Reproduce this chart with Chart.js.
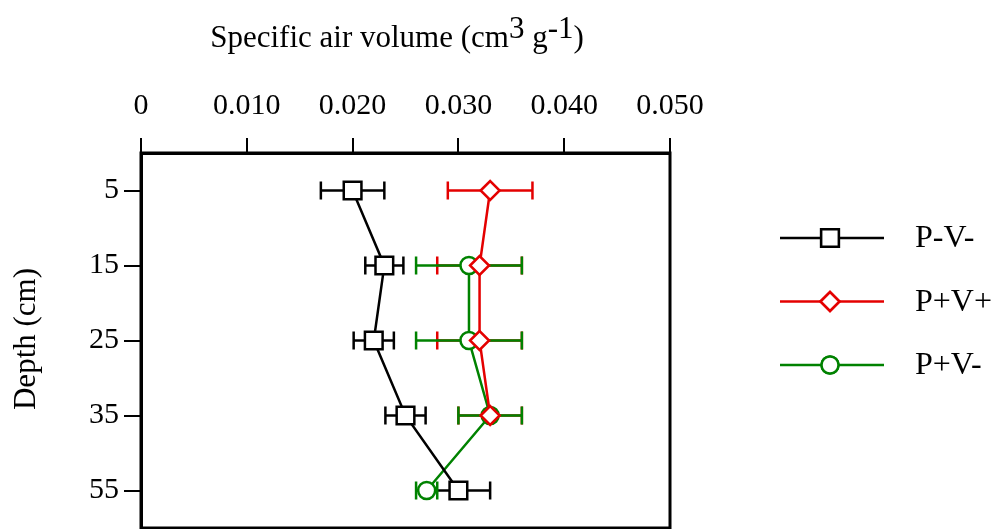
<!DOCTYPE html>
<html>
<head>
<meta charset="utf-8">
<script src="https://cdn.jsdelivr.net/npm/chart.js@4/dist/chart.umd.min.js"></script>
<style>
  html, body { margin: 0; padding: 0; background: #fff; }
  #wrap { width: 993px; height: 529px; }
</style>
</head>
<body>
<div id="wrap"><canvas id="c" width="993" height="529"></canvas></div>
<script>
// depth categories (cm)
var depths = ['5', '15', '25', '35', '55'];
// x axis ticks
var xTicks = [0, 0.010, 0.020, 0.030, 0.040, 0.050];

// specific air volume, cm3 g-1
var pvMinus = [0.020, 0.023, 0.022, 0.025, 0.030];
var pvMinusErr = [0.003, 0.0018, 0.0019, 0.0019, 0.003];
var ppvPlus = [0.033, 0.032, 0.032, 0.033, null];
var ppvPlusErr = [0.004, 0.004, 0.004, 0.003, null];
var ppvMinus = [null, 0.031, 0.031, 0.033, 0.027];
var ppvMinusErr = [null, 0.005, 0.005, 0.003, 0.001];

var FONT = '"Liberation Serif", "Times New Roman", serif';
var RED = 'rgb(228,0,0)';
var GREEN = 'rgb(0,130,0)';
var LW = 2.5;

// horizontal error bars, drawn under the lines
var errorBars = {
  id: 'errorBars',
  beforeDatasetsDraw: function (chart) {
    var ctx = chart.ctx;
    var xs = chart.scales.x, ys = chart.scales.y;
    chart.data.datasets.forEach(function (ds) {
      ctx.save();
      ctx.strokeStyle = ds.borderColor;
      ctx.lineWidth = LW;
      ds.data.forEach(function (v, i) {
        if (v == null) return;
        var e = ds.err[i];
        var y = ys.getPixelForValue(i);
        var x1 = xs.getPixelForValue(v - e), x2 = xs.getPixelForValue(v + e);
        ctx.beginPath();
        ctx.moveTo(x1, y); ctx.lineTo(x2, y);
        ctx.moveTo(x1, y - 9); ctx.lineTo(x1, y + 9);
        ctx.moveTo(x2, y - 9); ctx.lineTo(x2, y + 9);
        ctx.stroke();
      });
      ctx.restore();
    });
  }
};

// frame, titles and legend
var decor = {
  id: 'decor',
  afterDraw: function (chart) {
    var ctx = chart.ctx, a = chart.chartArea;
    ctx.save();
    ctx.strokeStyle = '#000';
    ctx.lineWidth = 3;
    ctx.strokeRect(a.left, a.top, a.right - a.left, a.bottom - a.top);

    // top title with superscripts
    ctx.fillStyle = '#000';
    ctx.textBaseline = 'alphabetic';
    var parts = [['Specific air volume (cm', 0], ['3', 1], [' g', 0], ['-1', 1], [')', 0]];
    ctx.font = '31px ' + FONT;
    var total = 0;
    parts.forEach(function (p) { total += ctx.measureText(p[0]).width; });
    var x = 397 - total / 2;
    parts.forEach(function (p) {
      ctx.fillText(p[0], x, p[1] ? 38 : 47);
      x += ctx.measureText(p[0]).width;
    });

    // y title
    ctx.save();
    ctx.translate(27, 339);
    ctx.rotate(-Math.PI / 2);
    ctx.textAlign = 'center';
    ctx.textBaseline = 'middle';
    ctx.font = '31px ' + FONT;
    ctx.fillText('Depth (cm)', 0, 0);
    ctx.restore();

    // legend
    chart.data.datasets.forEach(function (ds, i) {
      var y = 238 + i * 63.5;
      ctx.strokeStyle = ds.borderColor;
      ctx.lineWidth = LW;
      ctx.beginPath();
      ctx.moveTo(780, y); ctx.lineTo(884, y);
      ctx.stroke();
      Chart.helpers.drawPoint(ctx, {
        pointStyle: ds.pointStyle, radius: ds.pointRadius, borderWidth: LW
      }, 830, y);
      ctx.fillStyle = '#fff';
      ctx.fill();
      ctx.stroke();
      ctx.fillStyle = '#000';
      ctx.font = '32px ' + FONT;
      ctx.textBaseline = 'middle';
      ctx.textAlign = 'left';
      ctx.fillText(ds.label, 915, y + 1);
    });
    ctx.restore();
  }
};

function series(label, data, err, color, style, r) {
  return {
    label: label, data: data, err: err,
    borderColor: color, backgroundColor: '#fff',
    borderWidth: LW, pointStyle: style, pointRadius: r,
    pointBorderWidth: LW, pointBackgroundColor: '#fff', pointBorderColor: color,
    pointHoverRadius: r, tension: 0
  };
}

new Chart(document.getElementById('c'), {
  type: 'line',
  data: {
    labels: depths,
    datasets: [
      series('P-V-', pvMinus, pvMinusErr, '#000', 'rect', 12.5),
      series('P+V+', ppvPlus, ppvPlusErr, RED, 'rectRot', 9.5),
      series('P+V-', ppvMinus, ppvMinusErr, GREEN, 'circle', 8.5)
    ]
  },
  options: {
    indexAxis: 'y',
    responsive: false,
    animation: false,
    events: [],
    layout: { autoPadding: false, padding: { left: 0, top: 0, right: 323, bottom: 1 } },
    plugins: { legend: { display: false }, tooltip: { enabled: false } },
    scales: {
      x: {
        type: 'linear',
        position: 'top',
        min: 0, max: 0.05,
        afterBuildTicks: function (s) { s.ticks = xTicks.map(function (v) { return { value: v }; }); },
        afterFit: function (s) { s.height = 153; s.paddingLeft = 0; s.paddingRight = 0; },
        ticks: {
          color: '#000', padding: 14,
          font: { family: FONT, size: 30 },
          callback: function (v) { return v === 0 ? '0' : v.toFixed(3); }
        },
        grid: { drawOnChartArea: false, color: '#000', lineWidth: 2, tickLength: 15 },
        border: { color: '#000', width: 3 }
      },
      y: {
        type: 'category',
        offset: true,
        afterFit: function (s) { s.width = 141; s.paddingTop = 0; s.paddingBottom = 0; },
        ticks: { color: '#000', padding: 5, font: { family: FONT, size: 30 } },
        grid: { drawOnChartArea: false, color: '#000', lineWidth: 2, tickLength: 17, offset: false },
        border: { color: '#000', width: 3 }
      }
    }
  },
  plugins: [errorBars, decor]
});
</script>
</body>
</html>
